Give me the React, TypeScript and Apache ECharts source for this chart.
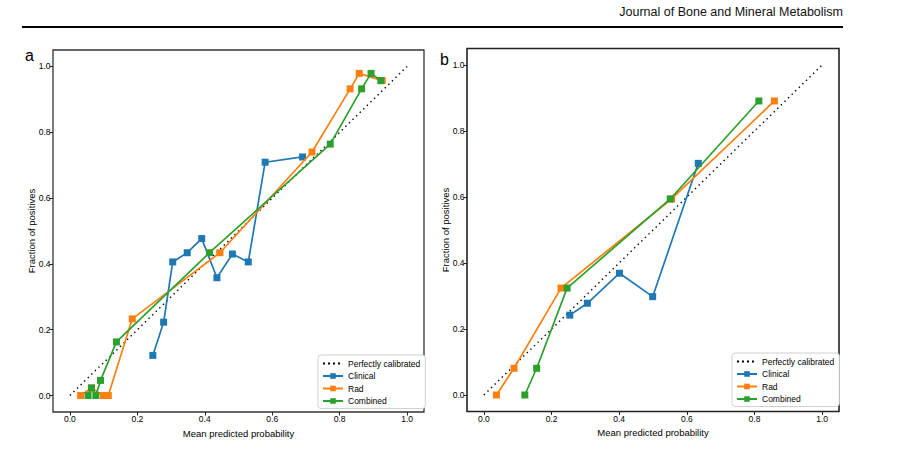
import React, { useEffect, useRef } from "react";
import * as echarts from "echarts";

const diagonal = [[0, 0], [1, 1]];

// Panel a
const aClinical = [[0.246, 0.122], [0.278, 0.223], [0.305, 0.406], [0.348, 0.434], [0.391, 0.477], [0.436, 0.358], [0.482, 0.430], [0.529, 0.406], [0.579, 0.709], [0.690, 0.725]];
const aRad = [[0.032, 0], [0.064, 0.023], [0.099, 0], [0.114, 0], [0.185, 0.233], [0.445, 0.434], [0.718, 0.740], [0.831, 0.932], [0.858, 0.979], [0.926, 0.957]];
const aCombined = [[0.054, 0], [0.064, 0.023], [0.077, 0], [0.091, 0.046], [0.138, 0.163], [0.414, 0.434], [0.772, 0.764], [0.865, 0.932], [0.893, 0.979], [0.922, 0.957]];

// Panel b
const bClinical = [[0.254, 0.242], [0.306, 0.278], [0.401, 0.369], [0.499, 0.298], [0.634, 0.702]];
const bRad = [[0.037, 0], [0.089, 0.081], [0.228, 0.324], [0.555, 0.594], [0.859, 0.891]];
const bCombined = [[0.121, 0], [0.156, 0.081], [0.246, 0.324], [0.551, 0.594], [0.813, 0.891]];

const seriesNames = ["Perfectly calibrated", "Clinical", "Rad", "Combined"];
const colors = ["#000000", "#1f77b4", "#ff7f0e", "#2ca02c"];

const FONT = "Liberation Sans, Arial, sans-serif";

function makeAxes(grid: number) {
  const common = {
    type: "value",
    gridIndex: grid,
    min: -0.05,
    max: 1.05,
    splitNumber: 5,
    nameLocation: "middle",
    nameMoveOverlap: false,
    nameTextStyle: { fontSize: 9.5, color: "#000", fontFamily: FONT },
    axisLine: { show: false, onZero: false },
    axisTick: { show: true, length: 3.5, lineStyle: { color: "#222", width: 1 } },
    axisLabel: {
      fontSize: 8.5,
      color: "#000",
      margin: 2.5,
      fontFamily: FONT,
      showMinLabel: false,
      showMaxLabel: false,
      formatter: (v: number) => (v < -0.001 || v > 1.001 ? "" : v.toFixed(1)),
    },
    splitLine: { show: false },
  };
  const x = { ...common, name: "Mean predicted probability", nameGap: 16 };
  const y = { ...common, name: "Fraction of positives", nameGap: 17 };
  return { x, y };
}

function makeSeries(grid: number, clinical: number[][], rad: number[][], combined: number[][]) {
  const lineSeries = (name: string, data: number[][], color: string, z: number) => ({
    type: "line",
    name,
    xAxisIndex: grid,
    yAxisIndex: grid,
    data,
    symbol: "rect",
    symbolSize: 7,
    z,
    itemStyle: { color },
    lineStyle: { color, width: 1.7 },
  });
  return [
    {
      type: "line",
      name: seriesNames[0],
      xAxisIndex: grid,
      yAxisIndex: grid,
      data: diagonal,
      symbol: "none",
      z: 1,
      lineStyle: { color: "#000", width: 1.4, type: [1.4, 3.6] },
      itemStyle: { color: "#000" },
    },
    lineSeries(seriesNames[1], clinical, colors[1], 2),
    lineSeries(seriesNames[2], rad, colors[2], 3),
    lineSeries(seriesNames[3], combined, colors[3], 4),
  ];
}

function makeLegend(left: number, top: number) {
  return {
    orient: "vertical",
    left,
    top,
    data: [
      { name: seriesNames[0], itemStyle: { opacity: 0 }, lineStyle: { type: [2, 3], width: 2 } },
      seriesNames[1],
      seriesNames[2],
      seriesNames[3],
    ],
    itemWidth: 20,
    itemHeight: 7,
    itemGap: 3.5,
    padding: [4, 5, 3, 4],
    backgroundColor: "#fff",
    borderColor: "#d0d0d0",
    borderWidth: 1,
    borderRadius: 3,
    selectedMode: false,
    textStyle: { fontSize: 8.5, color: "#000", fontFamily: FONT },
  };
}

export default function App() {
  const ref = useRef<HTMLDivElement>(null);
  useEffect(() => {
    if (!ref.current) return;
    const chart = echarts.init(ref.current, null, { renderer: "svg" });
    const a = makeAxes(0);
    const b = makeAxes(1);
    chart.setOption({
      animation: false,
      backgroundColor: "#fff",
      grid: [
        { left: 53, top: 50, width: 371, height: 362, show: true, borderColor: "#333", borderWidth: 1.3, backgroundColor: "transparent" },
        { left: 467, top: 48.5, width: 372, height: 363, show: true, borderColor: "#222", borderWidth: 1.6, backgroundColor: "transparent" },
      ],
      xAxis: [a.x, b.x],
      yAxis: [a.y, b.y],
      legend: [makeLegend(318, 355), makeLegend(732, 353)],
      series: [
        ...makeSeries(0, aClinical, aRad, aCombined),
        ...makeSeries(1, bClinical, bRad, bCombined),
      ],
      graphic: [
        {
          type: "text",
          right: 908 - 843,
          top: 5,
          style: { text: "Journal of Bone and Mineral Metabolism", fontSize: 12.5, fontFamily: "Liberation Sans Narrow, Liberation Sans, Arial, sans-serif", fill: "#111" },
        },
        { type: "line", shape: { x1: 22, y1: 27, x2: 843, y2: 27 }, style: { stroke: "#000", lineWidth: 2 } },
        { type: "text", left: 25, top: 47, style: { text: "a", fontSize: 16, fontFamily: FONT, fill: "#000" } },
        { type: "text", left: 440, top: 51, style: { text: "b", fontSize: 16, fontFamily: FONT, fill: "#000" } },
      ],
    });
    return () => chart.dispose();
  }, []);
  return <div ref={ref} style={{ position: "fixed", left: 0, top: 0, width: 908, height: 449 }} />;
}
